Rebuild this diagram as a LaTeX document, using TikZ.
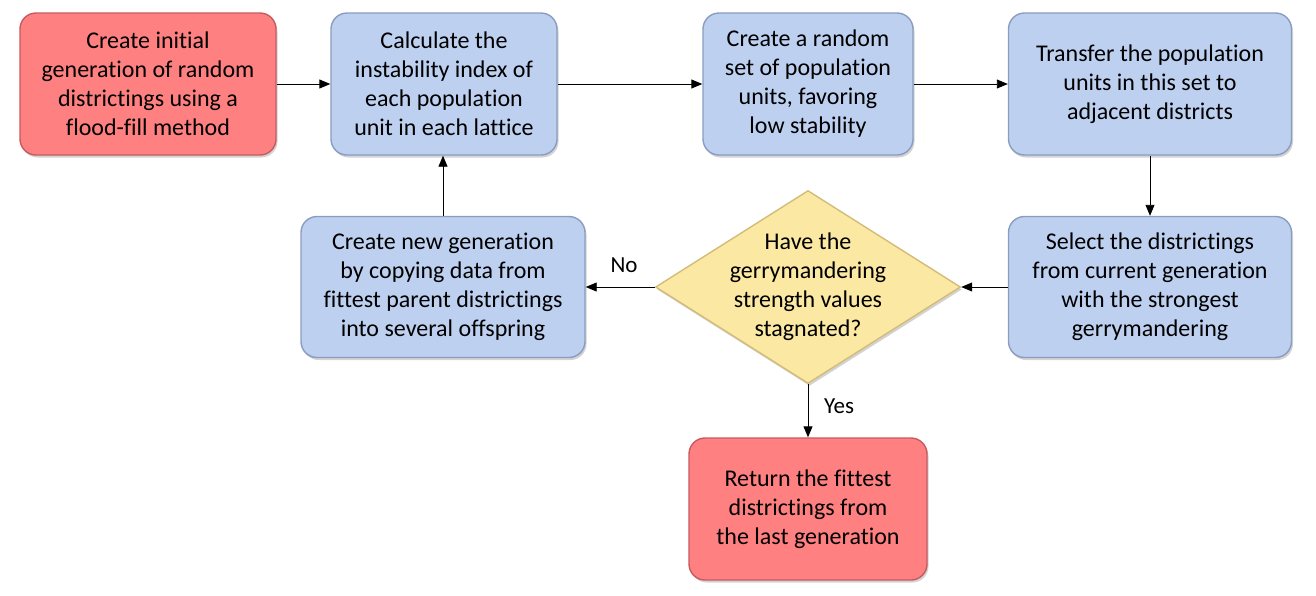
\documentclass[tikz,border=0pt]{standalone}
\usepackage{fontspec}
\setmainfont{Carlito}[Ligatures=NoCommon]
\usetikzlibrary{shapes.geometric,arrows.meta,shadows}
\definecolor{redfill}{HTML}{FF8080}
\definecolor{reddraw}{HTML}{C65A60}
\definecolor{bluefill}{HTML}{BED0F0}
\definecolor{bluedraw}{HTML}{8A9CC0}
\definecolor{yelfill}{HTML}{FBE8A2}
\definecolor{yeldraw}{HTML}{D2BC78}
\begin{document}
\begin{tikzpicture}[x=1pt,y=-1pt,
  box/.style={rounded corners=16pt, align=center, font=\fontsize{24}{29}\selectfont, inner sep=0pt, line width=1.4pt,
    drop shadow={shadow xshift=1.5pt,shadow yshift=-2.5pt,opacity=0.35}},
  redbox/.style={box, fill=redfill, draw=reddraw},
  bluebox/.style={box, fill=bluefill, draw=bluedraw},
  arr/.style={-{Triangle[length=11pt,width=9pt]}, line width=0.9pt},
  lbl/.style={font=\fontsize{23}{28}\selectfont, inner sep=0pt}]
\useasboundingbox (0,0) rectangle (1316,595);
\node[redbox, minimum width=256pt, minimum height=142pt] (n1) at (148,84)
  {Create initial\\generation of random\\districtings using a\\flood-fill method};
\node[bluebox, minimum width=226pt, minimum height=142pt] (n2) at (444,84)
  {Calculate the\\instability index of\\each population\\unit in each lattice};
\node[bluebox, minimum width=210pt, minimum height=142pt] (n3) at (808,84)
  {Create a random\\set of population\\units, favoring\\low stability};
\node[bluebox, minimum width=283pt, minimum height=142pt] (n4) at (1150,84)
  {Transfer the population\\units in this set to\\adjacent districts};
\node[bluebox, minimum width=283pt, minimum height=141pt] (n5) at (1150,287)
  {Select the districtings\\from current generation\\with the strongest\\gerrymandering};
\node[diamond, fill=yelfill, draw=yeldraw, line width=1.4pt, minimum width=305pt, minimum height=193pt, inner sep=0pt,
  drop shadow={shadow xshift=1.5pt,shadow yshift=-2.5pt,opacity=0.35}] (d) at (808,287) {};
\node[align=center, font=\fontsize{24}{29}\selectfont, inner sep=0pt] (dt) at (d.center)
  {Have the\\gerrymandering\\strength values\\stagnated?};
\node[bluebox, minimum width=284pt, minimum height=141pt] (n7) at (443,287)
  {Create new generation\\by copying data from\\fittest parent districtings\\into several offspring};
\node[redbox, minimum width=238pt, minimum height=142pt] (n8) at (808,509)
  {Return the fittest\\districtings from\\the last generation};
\draw[arr] (n1.east) -- (n2.west);
\draw[arr] (n2.east) -- (n3.west);
\draw[arr] (n3.east) -- (n4.west);
\draw[arr] (n4.south) -- (n5.north);
\draw[arr] (n5.west) -- (d.east);
\draw[arr] (d.west) -- (n7.east);
\draw[arr] (n7.north) -- (n7.north |- n2.south);
\draw[arr] (d.south) -- (n8.north);
\node[lbl] (no) at (624,265) {No};
\node[lbl] (yes) at (839,406) {Yes};
\end{tikzpicture}
\end{document}
